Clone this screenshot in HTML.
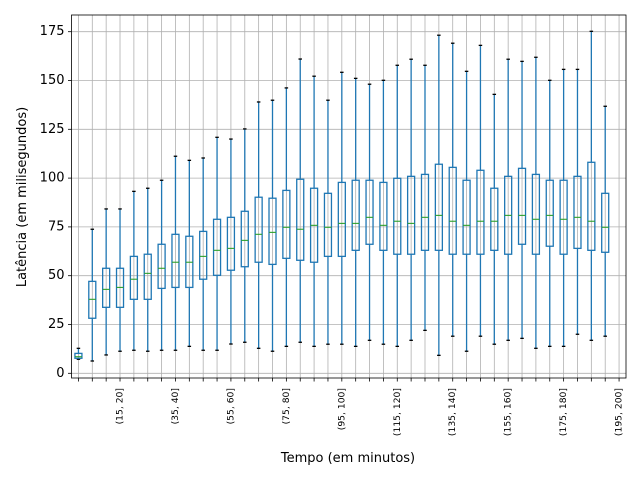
<!DOCTYPE html>
<html><head><meta charset="utf-8"><style>
body{margin:0;background:#fff}
svg{display:block;font-family:"DejaVu Sans","Liberation Sans",sans-serif}
</style></head><body>
<svg id="chart" width="640" height="480" viewBox="0 0 640 480">
<rect x="0" y="0" width="640" height="480" fill="#fff"/>
<g id="grid"></g>
<g id="boxes"></g>
<g id="axes"></g>
<text x="348" y="462" font-size="13" text-anchor="middle">Tempo (em minutos)</text>
<text transform="translate(26,197) rotate(-90)" font-size="13" text-anchor="middle">Latência (em milisegundos)</text>
</svg>
<script>
const categories = [];
for (let k = 1; k <= 40; k++) categories.push('(' + (5*(k-1)) + ', ' + (5*k) + ']');
const whiskerLow = [7.2,6.3,9.4,11.3,11.8,11.3,11.8,11.8,13.8,11.8,11.8,15,15.9,12.8,11.3,13.8,15.9,13.8,14.9,14.9,13.8,16.9,14.9,13.8,16.9,22,9.2,19,11.3,19,14.9,16.9,17.9,12.8,13.8,13.8,20,16.9,19];
const q1 = [7.7,28.2,33.8,33.8,37.9,37.9,43.5,44,44,48.2,50.2,52.8,54.6,56.9,55.8,58.9,57.9,56.9,59.9,59.9,63,66.1,63,61,61,63,63,61,61,61,63,61,66.1,61,65.1,61,64,63,62];
const medians = [8.5,37.9,43,44,48.2,51.2,53.8,56.9,56.9,59.9,63,64,68.1,71.2,72.2,74.8,73.8,75.8,74.8,76.8,76.8,79.9,75.8,77.9,76.8,79.9,80.9,77.9,75.8,77.9,77.9,80.9,80.9,78.9,80.9,78.9,79.9,77.9,74.8];
const q3 = [10.2,47.1,53.8,53.8,59.9,61,66.1,71.2,70.2,72.7,78.9,79.9,83,90.2,89.7,93.7,99.4,94.8,92.2,97.8,98.9,98.9,97.8,99.9,100.9,101.9,107.1,105.5,98.9,104,94.8,100.9,105,101.9,98.9,98.9,100.9,108.1,92.2];
const whiskerHigh = [12.8,73.8,84.2,84.2,93.2,94.8,98.9,111.2,109.1,110.3,120.9,120,125.2,139,139.9,146.2,161,152.2,139.9,154.2,151.1,148.1,150.1,157.8,160.9,157.8,173.2,169.1,154.7,168,142.9,160.9,159.8,161.9,150.1,155.7,155.7,175.2,136.8];
const yTicks = [0,25,50,75,100,125,150,175];

const L=71.5,R=626,T=15,B=378;
const xs = i => L + (i + 0.5) * (R - L) / 40;
const ys = v => 373.3 - v * 1.952;
const NS='http://www.w3.org/2000/svg';
function mk(tag, attrs, parent){const e=document.createElementNS(NS,tag);for(const k in attrs)e.setAttribute(k,attrs[k]);parent.appendChild(e);return e;}
const grid=document.getElementById('grid'), boxes=document.getElementById('boxes'), axes=document.getElementById('axes');

yTicks.forEach(v=>{
  const g=mk('line',{x1:L,x2:R,y1:ys(v),y2:ys(v),stroke:'#b0b0b0','stroke-width':0.8},grid);
  
  
  const t=mk('line',{x1:L-3.5,x2:L,y1:ys(v),y2:ys(v),stroke:'#000','stroke-width':0.8},axes);
  
  
  const lb=mk('text',{x:L-7,y:ys(v),'font-size':13,'text-anchor':'end','dominant-baseline':'central'},axes);
  lb.textContent=v;
  
  
});
categories.forEach((c,i)=>{
  const x=xs(i);
  const g=mk('line',{x1:x,x2:x,y1:T,y2:B,stroke:'#b0b0b0','stroke-width':0.8},grid);
  
  
  const t=mk('line',{x1:x,x2:x,y1:B,y2:B+3.5,stroke:'#000','stroke-width':0.8},axes);
  
  
  if((i+1)%4===0){
    const lb=mk('text',{transform:'translate('+x+',388) rotate(-90)','font-size':9.2,'text-anchor':'end','dominant-baseline':'central'},axes);
    lb.textContent=c;
    
    
  }
});
medians.forEach((m,i)=>{
  const x=xs(i), hw=3.5, cw=1.75;
  const g=mk('g',{},boxes);
  
  
  mk('line',{x1:x,x2:x,y1:ys(q3[i]),y2:ys(whiskerHigh[i]),stroke:'#1f77b4','stroke-width':1.3},g);
  mk('line',{x1:x,x2:x,y1:ys(q1[i]),y2:ys(whiskerLow[i]),stroke:'#1f77b4','stroke-width':1.3},g);
  mk('line',{x1:x-cw,x2:x+cw,y1:ys(whiskerHigh[i]),y2:ys(whiskerHigh[i]),stroke:'#000','stroke-width':1.3},g);
  mk('line',{x1:x-cw,x2:x+cw,y1:ys(whiskerLow[i]),y2:ys(whiskerLow[i]),stroke:'#000','stroke-width':1.3},g);
  mk('rect',{x:x-hw,y:ys(q3[i]),width:2*hw,height:ys(q1[i])-ys(q3[i]),fill:'none',stroke:'#1f77b4','stroke-width':1.3},g);
  mk('line',{x1:x-hw,x2:x+hw,y1:ys(m),y2:ys(m),stroke:'#2ca02c','stroke-width':1.1},g);
});
const fr=mk('rect',{x:L,y:T,width:R-L,height:B-T,fill:'none',stroke:'#000','stroke-width':0.8},axes);


</script>
</body></html>
